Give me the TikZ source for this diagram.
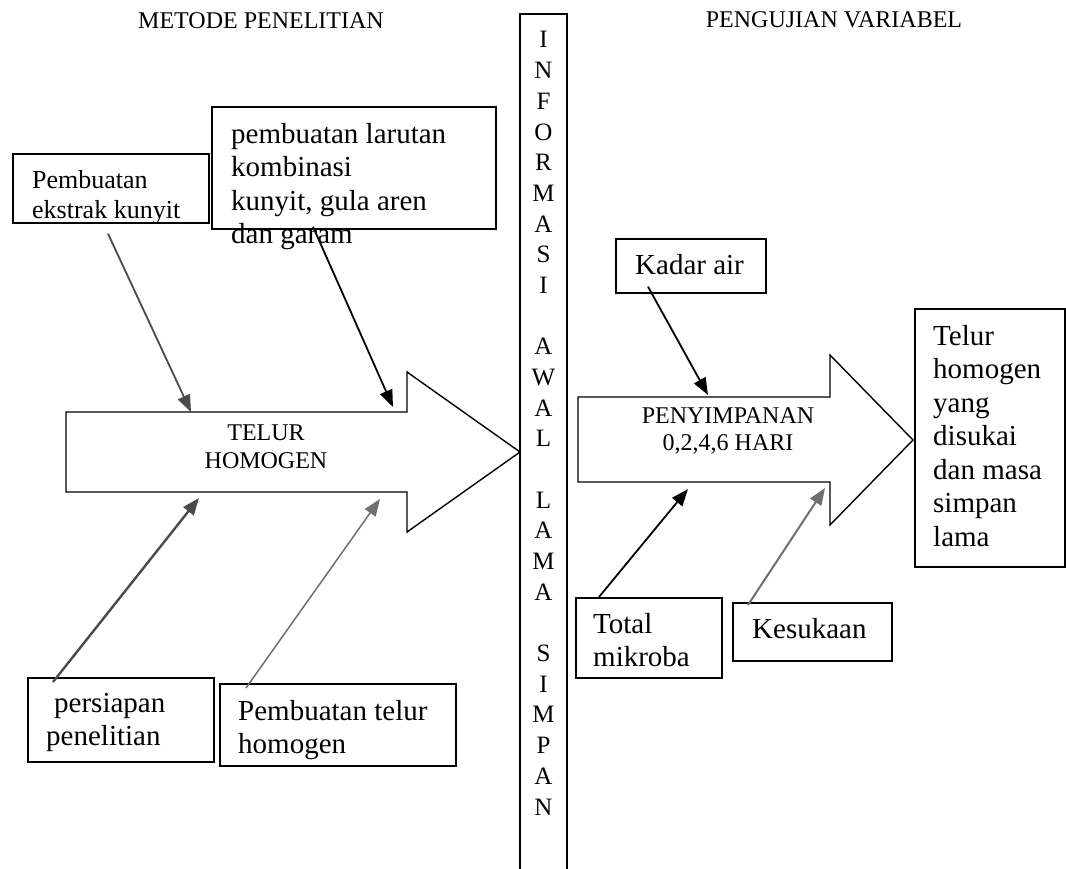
\documentclass[tikz,border=0pt]{standalone}
\usepackage{fontspec}
\setmainfont{Liberation Serif}
\usetikzlibrary{arrows.meta,positioning}
\definecolor{Ink}{HTML}{000000}
\definecolor{Graphite}{HTML}{4A4A4A}
\definecolor{Pewter}{HTML}{6F6F6F}
\tikzset{
  frame/.style={draw=Ink,line width=1.7pt,inner sep=0pt,anchor=north west},
  boxtext/.style={inner sep=0pt,anchor=north west,align=left,
                  font=\fontsize{29}{33.5}\selectfont},
  captext/.style={inner sep=0pt,align=center,font=\fontsize{24}{27.5}\selectfont},
  bigarrow/.style={draw=Ink,line width=1.4pt,line join=miter},
  feed/.style={-{Triangle[length=17pt,width=13pt]},line width=1.8pt,draw=Ink},
}
% [#1 text style], #2 name, #3 corner, #4 width, #5 height, #6 text corner, #7 text
\newcommand{\framedtext}[7][]{%
  \node[frame,minimum width=#4pt,minimum height=#5pt] (#2) at (#3) {};
  \node[boxtext,#1] (#2txt) at (#6) {#7};
}

\begin{document}
\begin{tikzpicture}[x=1pt,y=-1pt]
  \useasboundingbox (0,0) rectangle (1066,869);

  \node[captext] (metode) at (261,21) {METODE PENELITIAN};
  \node[captext] (uji) at (834,20) {PENGUJIAN VARIABEL};

  % kolom informasi awal
  \draw[Ink,line width=1.5pt] (520,869) -- (520,14) -- (567,14) -- (567,869);
  \foreach \ch [count=\i] in {I,N,F,O,R,M,A,S,I,,A,W,A,L,,L,A,M,A,,S,I,M,P,A,N}{
    \node[inner sep=0pt,anchor=base,font=\fontsize{25}{25}\selectfont]
      (huruf\i) at (543.5,{48+30.68*(\i-1)}) {\ch};
  }

  % panah utama
  \draw[bigarrow] (66,412) -- (407,412) -- (407,372) -- (520,452)
    -- (407,532) -- (407,492) -- (66,492) -- cycle;
  \node[captext] (telur) at (266,447) {TELUR\\HOMOGEN};
  \draw[bigarrow] (578,397) -- (830,397) -- (830,355) -- (913,440)
    -- (830,525) -- (830,482) -- (578,482) -- cycle;
  \node[captext] (simpan) at (728,431) {PENYIMPANAN\\0,2,4,6 HARI};

  \coordinate (t1) at (191,412);
  \coordinate (t2) at (393,407);
  \coordinate (t3) at (199,498);
  \coordinate (t4) at (380,499);
  \coordinate (p1) at (708,395);
  \coordinate (p2) at (688,489);
  \coordinate (p3) at (825,488);

  \framedtext[font=\fontsize{26}{30}\selectfont]{ekstrak}{12,153}{196}{69}{32,170}
    {Pembuatan\\ekstrak kunyit}
  \framedtext{larutan}{211,106}{284}{122}{231,123}
    {pembuatan larutan\\kombinasi\\kunyit, gula aren\\dan garam}
  \framedtext{persiapan}{27,677}{186}{84}{46,693}
    {\hspace*{8pt}persiapan\\penelitian}
  \framedtext{telurbuat}{219,683}{236}{82}{238,700}
    {Pembuatan telur\\homogen}
  \framedtext{kadar}{615,238}{150}{54}{635,254}{Kadar air}
  \framedtext{total}{575,597}{146}{80}{593,613}{Total\\mikroba}
  \framedtext{suka}{732,602}{159}{58}{752,618}{Kesukaan}
  \framedtext{hasil}{914,308}{150}{258}{933,325}
    {Telur\\homogen\\yang\\disukai\\dan masa\\simpan\\lama}

  \draw[feed,draw=Graphite] ([xshift=96pt,yshift=-10pt]ekstrak.south west) -- (t1);
  \draw[feed] ([xshift=102pt,yshift=3pt]larutan.south west) -- (t2);
  \draw[feed,draw=Graphite,line width=2.4pt] ([xshift=26pt,yshift=-5pt]persiapan.north west) -- (t3);
  \draw[feed,draw=Pewter,line width=1.5pt] ([xshift=27pt,yshift=-5pt]telurbuat.north west) -- (t4);
  \draw[feed] ([xshift=33pt,yshift=7pt]kadar.south west) -- (p1);
  \draw[feed] ([xshift=24pt]total.north west) -- (p2);
  \draw[feed,draw=Pewter,line width=2pt] ([xshift=16pt,yshift=-3pt]suka.north west) -- (p3);
\end{tikzpicture}
\end{document}
